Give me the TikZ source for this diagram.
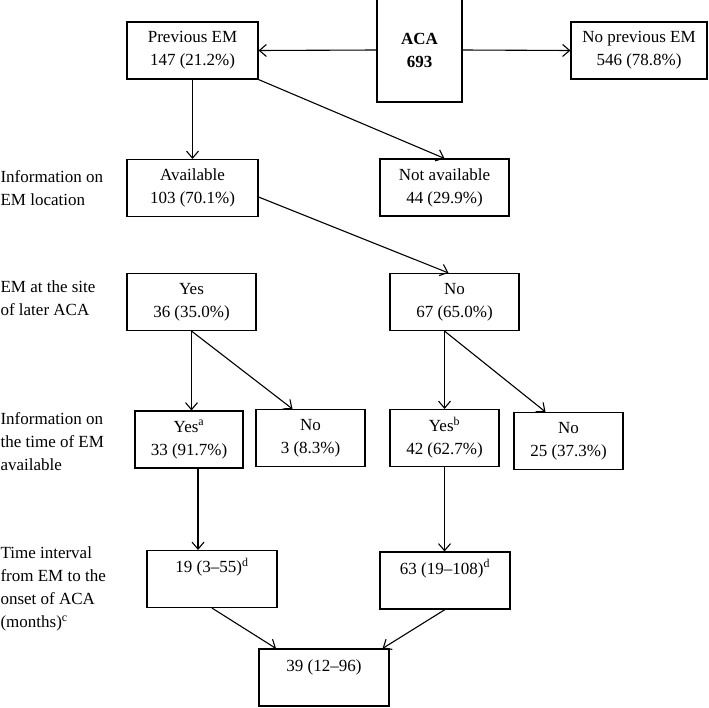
\documentclass[tikz,border=0pt]{standalone}
\usepackage{fontspec}
\setmainfont{Liberation Serif}
\usetikzlibrary{arrows.meta}

\begin{document}
\begin{tikzpicture}[x=1pt, y=-1pt, line width=1.1pt,
        font=\fontsize{17}{23}\selectfont,
        >={Straight Barb[length=7pt,width=12pt]},
        box/.style={draw, rectangle, align=center, inner sep=0pt, minimum width=#1, minimum height=57pt},
        box/.default=130pt,
        topbox/.style={box, text height=22pt, text depth=35pt},
        lbl/.style={anchor=west, align=left, inner sep=0pt}]
        \useasboundingbox (0,0) rectangle (709,707);

        % Nodes
        \node (aca) [box=85pt, minimum height=104pt, font=\fontsize{17}{23}\selectfont\bfseries] at (419.5,50) {ACA\\693};
        \node (prev) [box=131pt] at (192.5,50.5) {Previous EM\\147 (21.2\%)};
        \node (noprev) [box=136pt] at (639,50.5) {No previous EM\\546 (78.8\%)};
        \node (avail) [box=131pt] at (192.5,188) {Available\\103 (70.1\%)};
        \node (notavail) [box=129pt] at (444.5,187.5) {Not available\\44 (29.9\%)};
        \node (siteyes) [box=129pt] at (191.5,302) {Yes\\36 (35.0\%)};
        \node (siteno) [box=129pt] at (454.5,302) {No\\67 (65.0\%)};
        \node (timeyesa) [box=108pt] at (189,439.5) {Yes\textsuperscript{a}\\33 (91.7\%)};
        \node (timenoa) [box=109pt] at (310.5,438) {No\\3 (8.3\%)};
        \node (timeyesb) [box=109pt] at (444.5,438) {Yes\textsuperscript{b}\\42 (62.7\%)};
        \node (timenob) [box=109pt] at (568.5,441) {No\\25 (37.3\%)};
        \node (intyes) [topbox] at (212,579) {19 (3--55)\textsuperscript{d}};
        \node (intno) [topbox] at (445,580.5) {63 (19--108)\textsuperscript{d}};
        \node (inttotal) [topbox] at (324,677.5) {39 (12--96)};

        % Row labels
        \node (lbloc) [lbl] at (0,188) {Information on\\EM location};
        \node (lbsite) [lbl] at (0,298) {EM at the site\\of later ACA};
        \node (lbtime) [lbl] at (0,442) {Information on\\the time of EM\\available};
        \node (lbint) [lbl] at (0,589) {Time interval\\from EM to the\\onset of ACA\\(months)\textsuperscript{c}};

        % Edges
        \draw[->] (aca.west) -- (prev.east);
        \draw[->] (aca.east) -- (noprev.west);
        \draw[->] (prev) -- (avail);
        \draw[->] (prev.south east) -- (notavail.north);
        \draw[->] ([yshift=-9pt]avail.east) -- ([xshift=-6pt]siteno.north);
        \draw[->] (siteyes) -- (siteyes |- timeyesa.north);
        \draw[->] (siteyes.south) -- ([xshift=-18pt]timenoa.north);
        \draw[->] (timeyesb |- siteno.south) -- (timeyesb.north);
        \draw[->] (timeyesb |- siteno.south) -- ([xshift=-23pt]timenob.north);
        \draw[->] ([xshift=9pt]timeyesa.south) -- ([xshift=9pt]timeyesa.south |- intyes.north);
        \draw[->] (timeyesb) -- (timeyesb |- intno.north);
        \draw[->] (intyes.south) -- ([xshift=-48pt]inttotal.north);
        \draw[->] (intno.south) -- ([xshift=-7pt]inttotal.north east);
    \end{tikzpicture}
\end{document}
